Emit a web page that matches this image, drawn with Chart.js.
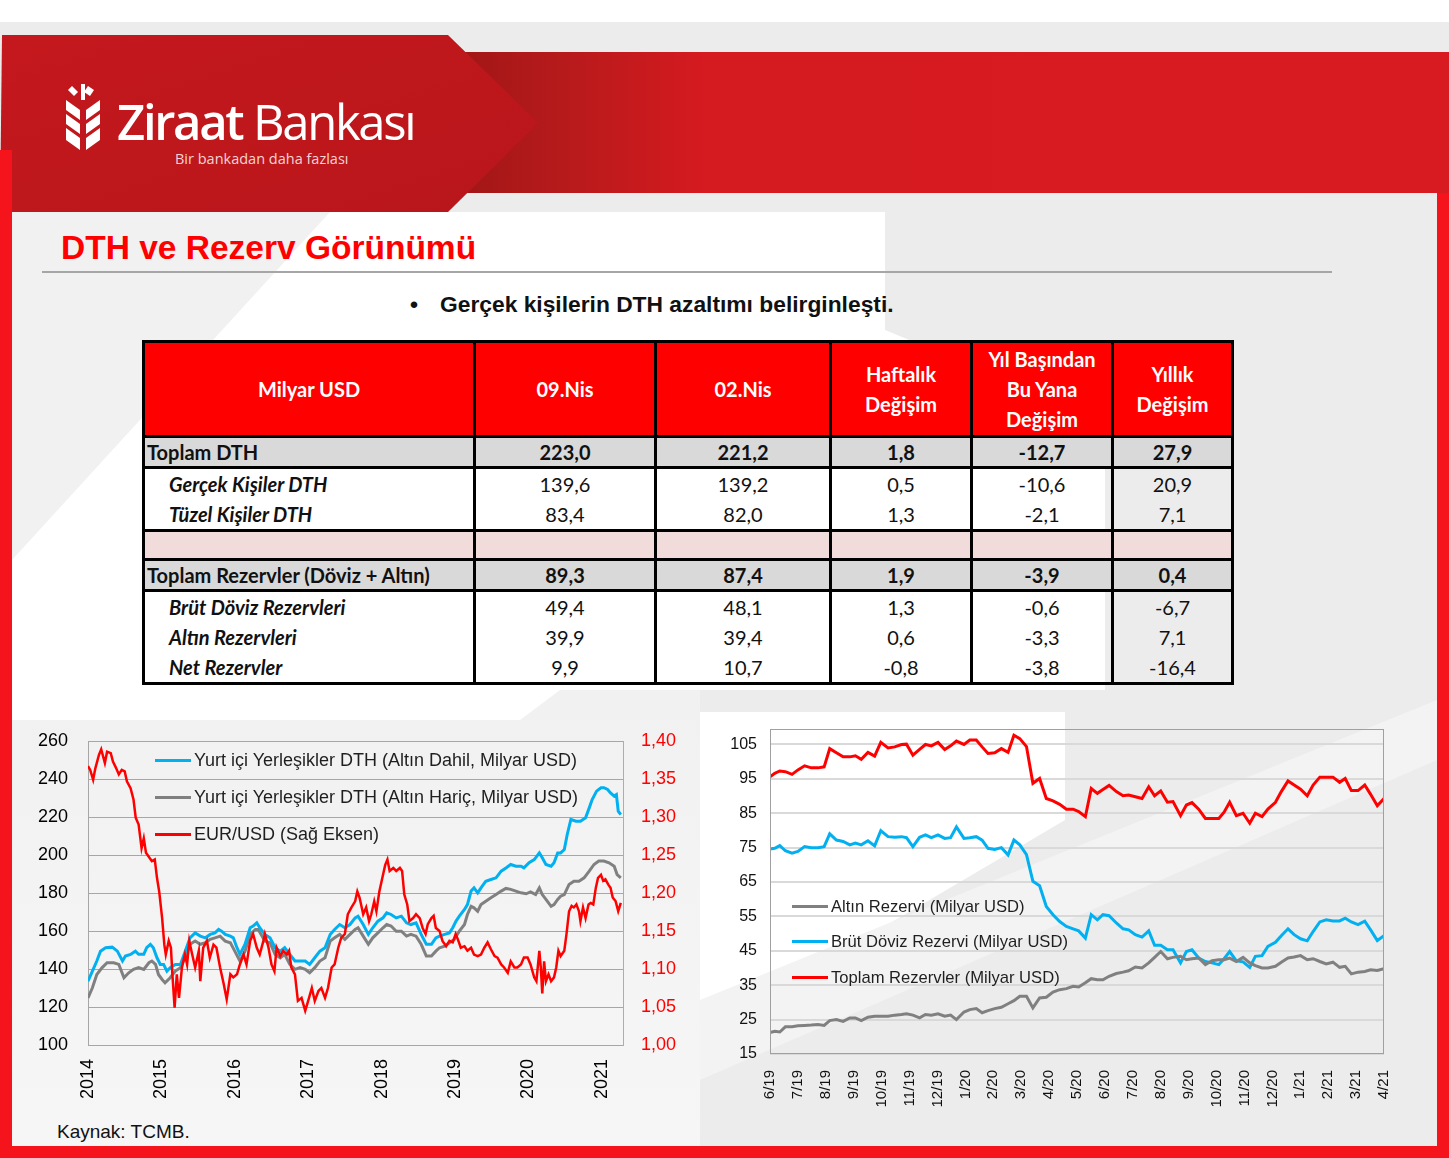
<!DOCTYPE html>
<html lang="tr">
<head>
<meta charset="utf-8">
<title>DTH ve Rezerv Görünümü</title>
<script src="https://cdn.jsdelivr.net/npm/chart.js@4.4.1/dist/chart.umd.min.js"></script>
<style>
  html, body { margin: 0; padding: 0; }
  body { width: 1449px; height: 1158px; position: relative; overflow: hidden; background: #fff;
         font-family: "Liberation Sans", Arial, sans-serif; }
  .abs { position: absolute; }
  #zemin { left: 0; top: 22px; }
  .baslik { left: 61px; top: 229px; font-size: 33.5px; font-weight: bold; color: #ff0000; white-space: nowrap; }
  .cizgi { left: 42px; top: 271px; width: 1290px; height: 2px; background: #a6a6a6; }
  .madde { left: 410px; top: 291px; font-size: 22.8px; font-weight: bold; color: #111; white-space: nowrap; }
  .madde span { display: inline-block; width: 30px; }
  table.tablo { left: 142px; top: 340px; border-collapse: collapse; table-layout: fixed; width: 1089px;
                font-family: Lato, "Open Sans", sans-serif; font-size: 20px; color: #111; }
  .tablo th, .tablo td { border-left: 3px solid #000; border-right: 3px solid #000; padding: 0; text-align: center; }
  .tablo tr.bas th { background: #ff0000; color: #fff; height: 92px; font-weight: bold; line-height: 30px;
                     border-top: 3px solid #000; }
  .tablo tr.ust td { border-top: 3px solid #000; }
  .tablo tr.alt td { border-bottom: 3px solid #000; }
  .tablo tr.toplam td { background: #d9d9d9; font-weight: bold; height: 28px; }
  .tablo tr.toplam td:first-child { text-align: left; padding-left: 2px; }
  .tablo tr.pembe td { background: #f2dcdb; height: 26px; }
  .tablo tr.satir td { height: 30px; }
  .tablo tr.satir2 td { height: 30px; }
  .tablo td.etiket { text-align: left; padding-left: 24px; font-style: italic; font-weight: bold; }
  .lej { font-size: 18px; color: #1f1f1f; white-space: nowrap; }
  .lej i { display: inline-block; width: 36px; height: 3px; vertical-align: middle; margin-right: 3px; position: relative; top: -1px; }
  .lej2 { font-size: 16.6px; color: #1f1f1f; white-space: nowrap; }
  .lej2 i { display: inline-block; width: 36px; height: 3px; vertical-align: middle; margin-right: 3px; position: relative; top: -1px; }
  .kaynak { left: 57px; top: 1121px; font-size: 19px; color: #111; }
</style>
</head>
<body>

<!-- arka plan -->
<svg id="zemin" class="abs" width="1449" height="1136" viewBox="0 22 1449 1136">
  <defs>
    <linearGradient id="logoG" x1="0" y1="0" x2="1" y2="1">
      <stop offset="0" stop-color="#c4181d"/><stop offset="1" stop-color="#b8161b"/>
    </linearGradient>
    <linearGradient id="bantG" x1="0" y1="0" x2="1" y2="0">
      <stop offset="0" stop-color="#a11616"/><stop offset="0.1" stop-color="#b51a1b"/>
      <stop offset="0.25" stop-color="#d51a20"/><stop offset="1" stop-color="#d81b21"/>
    </linearGradient>
    <linearGradient id="solG" x1="0" y1="0" x2="0" y2="1">
      <stop offset="0" stop-color="#f1f1f1"/><stop offset="1" stop-color="#f6f6f6"/>
    </linearGradient>
  </defs>
  <rect x="0" y="22" width="1449" height="1136" fill="#ececec"/>
  <polygon points="12,212 885,212 885,330 1105,420 1105,690 12,690" fill="#ffffff"/>
  <polygon points="12,212 330,212 12,560" fill="#f1f1f1"/>
  <polygon points="12,690 700,690 700,1146 12,1146" fill="url(#solG)"/>
  <polygon points="12,690 560,690 520,720 12,720" fill="#ffffff"/>
  <polygon points="700,712 1065,712 1065,820 760,1000 700,1000" fill="#ffffff"/>
  <polygon points="700,1000 1437,700 1437,760 700,1080" fill="#f3f3f3"/>
  <!-- kırmızı bant -->
  <rect x="455" y="52" width="994" height="141" fill="url(#bantG)"/>
  <polygon points="2,35 448,35 538,123 448,212 0,212" fill="url(#logoG)"/>
  <rect x="0" y="150" width="12" height="1008" fill="#f5141c"/>
  <rect x="1437" y="193" width="12" height="965" fill="#f5141c"/>
  <rect x="0" y="1146" width="1449" height="12" fill="#f5141c"/>
  <!-- başak -->
  <g fill="#ffffff">
    <polygon points="72,86 78,92 74,96 68,90"/>
    <polygon points="88,86 94,90 90,96 84,92"/>
    <polygon points="81,84 85,84 85,100 81,100"/>
    <polygon points="66,100 80,110 80,120 66,110"/>
    <polygon points="100,100 86,110 86,120 100,110"/>
    <polygon points="66,114 80,124 80,134 66,124"/>
    <polygon points="100,114 86,124 86,134 100,124"/>
    <polygon points="66,128 80,138 80,150 66,140"/>
    <polygon points="100,128 86,138 86,150 100,140"/>
  </g>
</svg>

<div class="abs" style="left:117px; top:88px; font-family:'Open Sans',sans-serif; font-size:49px; color:#fff; letter-spacing:-2.3px; white-space:nowrap;"><span style="font-weight:600">Ziraat</span> <span style="font-weight:400">Bankası</span></div>
<div class="abs" style="left:175px; top:149px; font-family:'Open Sans',sans-serif; font-size:14.5px; color:#f4d4d4; white-space:nowrap;">Bir bankadan daha fazlası</div>

<div class="abs baslik">DTH ve Rezerv Görünümü</div>
<div class="abs cizgi"></div>
<div class="abs madde"><span>•</span>Gerçek kişilerin DTH azaltımı belirginleşti.</div>

<table class="abs tablo">
  <colgroup>
    <col style="width:331px"><col style="width:181px"><col style="width:175px">
    <col style="width:141px"><col style="width:141px"><col style="width:120px">
  </colgroup>
  <tr class="bas"><th>Milyar USD</th><th>09.Nis</th><th>02.Nis</th><th>Haftalık<br>Değişim</th><th>Yıl Başından<br>Bu Yana<br>Değişim</th><th>Yıllık<br>Değişim</th></tr>
  <tr class="toplam ust"><td>Toplam DTH</td><td>223,0</td><td>221,2</td><td>1,8</td><td>-12,7</td><td>27,9</td></tr>
  <tr class="satir ust"><td class="etiket">Gerçek Kişiler DTH</td><td>139,6</td><td>139,2</td><td>0,5</td><td>-10,6</td><td>20,9</td></tr>
  <tr class="satir"><td class="etiket">Tüzel Kişiler DTH</td><td>83,4</td><td>82,0</td><td>1,3</td><td>-2,1</td><td>7,1</td></tr>
  <tr class="pembe ust"><td></td><td></td><td></td><td></td><td></td><td></td></tr>
  <tr class="toplam ust"><td>Toplam Rezervler (Döviz + Altın)</td><td>89,3</td><td>87,4</td><td>1,9</td><td>-3,9</td><td>0,4</td></tr>
  <tr class="satir2 ust"><td class="etiket">Brüt Döviz Rezervleri</td><td>49,4</td><td>48,1</td><td>1,3</td><td>-0,6</td><td>-6,7</td></tr>
  <tr class="satir2"><td class="etiket">Altın Rezervleri</td><td>39,9</td><td>39,4</td><td>0,6</td><td>-3,3</td><td>7,1</td></tr>
  <tr class="satir2 alt"><td class="etiket">Net Rezervler</td><td>9,9</td><td>10,7</td><td>-0,8</td><td>-3,8</td><td>-16,4</td></tr>
</table>

<div class="abs" style="left:0; top:720px; width:700px; height:400px;"><canvas id="dthGrafik" width="700" height="400"></canvas></div>
<div class="abs" style="left:700px; top:715px; width:720px; height:400px;"><canvas id="rezervGrafik" width="720" height="400"></canvas></div>

<div class="abs lej" style="left:155px; top:750px;"><i style="background:#00b0f0"></i>Yurt içi Yerleşikler DTH (Altın Dahil, Milyar USD)</div>
<div class="abs lej" style="left:155px; top:787px;"><i style="background:#808080"></i>Yurt içi Yerleşikler DTH (Altın Hariç, Milyar USD)</div>
<div class="abs lej" style="left:155px; top:824px;"><i style="background:#ff0000"></i>EUR/USD (Sağ Eksen)</div>

<div class="abs lej2" style="left:792px; top:897px;"><i style="background:#808080"></i>Altın Rezervi (Milyar USD)</div>
<div class="abs lej2" style="left:792px; top:932px;"><i style="background:#00b0f0"></i>Brüt Döviz Rezervi (Milyar USD)</div>
<div class="abs lej2" style="left:792px; top:968px;"><i style="background:#ff0000"></i>Toplam Rezervler (Milyar USD)</div>

<div class="abs kaynak">Kaynak: TCMB.</div>

<script>
// --- Sol grafik: yurt içi yerleşikler DTH ve EUR/USD (x = yıl) ---
const dthDahilTarih = [2014, 2014.06, 2014.12, 2014.17, 2014.24, 2014.33, 2014.40, 2014.47, 2014.51, 2014.58,
  2014.645, 2014.69, 2014.76, 2014.80, 2014.85, 2014.89, 2014.94, 2014.985, 2015.03, 2015.075,
  2015.12, 2015.19, 2015.26, 2015.325, 2015.39, 2015.46, 2015.53, 2015.60, 2015.665, 2015.73,
  2015.78, 2015.82, 2015.87, 2015.94, 2015.98, 2016.03, 2016.07, 2016.14, 2016.21, 2016.25,
  2016.30, 2016.34, 2016.41, 2016.48, 2016.55, 2016.62, 2016.68, 2016.75, 2016.82, 2016.89,
  2016.96, 2017.02, 2017.09, 2017.16, 2017.23, 2017.30, 2017.36, 2017.43, 2017.50, 2017.57,
  2017.64, 2017.68, 2017.75, 2017.82, 2017.88, 2017.95, 2018.02, 2018.07, 2018.13, 2018.20,
  2018.27, 2018.34, 2018.40, 2018.47, 2018.54, 2018.61, 2018.68, 2018.74, 2018.79, 2018.86,
  2018.925, 2018.97, 2019.015, 2019.06, 2019.13, 2019.17, 2019.22, 2019.26, 2019.31, 2019.355,
  2019.42, 2019.49, 2019.56, 2019.63, 2019.695, 2019.76, 2019.83, 2019.90, 2019.94, 2020.01,
  2020.08, 2020.15, 2020.19, 2020.24, 2020.31, 2020.35, 2020.40, 2020.44, 2020.49, 2020.53,
  2020.58, 2020.65, 2020.71, 2020.78, 2020.83, 2020.87, 2020.93, 2020.99, 2021.03, 2021.08,
  2021.12, 2021.17, 2021.20, 2021.225, 2021.26];
const dthDahil = [133.6, 138.9, 144.2, 149.4, 151.2, 151.5, 149.4, 144.2, 146.8, 147.7,
  149.4, 147.7, 147.7, 151.2, 153.0, 151.2, 145.9, 142.4, 142.4, 138.9,
  140.7, 142.4, 142.4, 149.4, 156.4, 159.0, 157.3, 156.4, 158.2, 159.0,
  160.8, 159.9, 158.2, 157.3, 156.4, 151.2, 147.7, 153.0, 161.7, 162.6,
  164.3, 161.7, 158.2, 156.4, 151.2, 149.4, 151.2, 147.7, 144.2, 144.2,
  144.2, 142.4, 145.9, 149.4, 151.2, 158.2, 160.8, 163.4, 161.7, 163.4,
  166.9, 167.8, 163.4, 158.2, 161.7, 165.2, 166.9, 169.6, 168.7, 166.9,
  167.8, 164.3, 163.4, 164.3, 158.2, 153.0, 153.0, 156.4, 157.3, 158.2,
  159.0, 161.7, 165.2, 167.8, 171.3, 173.9, 181.0, 182.7, 180.1, 182.7,
  186.2, 187.1, 188.0, 191.5, 193.2, 195.0, 194.1, 194.1, 193.2, 195.9,
  197.6, 201.1, 198.5, 195.0, 194.1, 195.9, 201.1, 201.1, 202.9, 210.8,
  218.7, 217.8, 217.8, 219.6, 224.8, 229.2, 233.6, 235.4, 235.4, 234.5,
  232.7, 231.0, 231.8, 223.1, 221.3];

const dthHaricTarih = [2014, 2014.06, 2014.12, 2014.19, 2014.26, 2014.35, 2014.42, 2014.49, 2014.555, 2014.62,
  2014.69, 2014.76, 2014.83, 2014.87, 2014.92, 2014.96, 2015.01, 2015.05, 2015.12, 2015.19,
  2015.26, 2015.325, 2015.39, 2015.46, 2015.53, 2015.60, 2015.665, 2015.73, 2015.80, 2015.87,
  2015.94, 2016.00, 2016.07, 2016.14, 2016.21, 2016.28, 2016.32, 2016.41, 2016.48, 2016.55,
  2016.62, 2016.68, 2016.75, 2016.82, 2016.89, 2016.96, 2017.02, 2017.09, 2017.16, 2017.23,
  2017.30, 2017.36, 2017.43, 2017.50, 2017.57, 2017.64, 2017.68, 2017.75, 2017.82, 2017.88,
  2017.95, 2018.02, 2018.07, 2018.13, 2018.20, 2018.27, 2018.34, 2018.40, 2018.47, 2018.54,
  2018.61, 2018.68, 2018.74, 2018.79, 2018.86, 2018.925, 2018.99, 2019.06, 2019.13, 2019.17,
  2019.22, 2019.26, 2019.31, 2019.355, 2019.42, 2019.49, 2019.56, 2019.63, 2019.695, 2019.76,
  2019.83, 2019.90, 2019.97, 2020.03, 2020.10, 2020.15, 2020.19, 2020.24, 2020.31, 2020.35,
  2020.40, 2020.44, 2020.49, 2020.555, 2020.62, 2020.69, 2020.76, 2020.83, 2020.895, 2020.96,
  2021.03, 2021.10, 2021.17, 2021.21, 2021.26];
const dthHaric = [124.8, 130.1, 137.1, 140.6, 143.3, 143.3, 142.4, 135.4, 138.0, 139.8,
  140.7, 139.8, 143.3, 144.2, 142.4, 137.1, 134.5, 132.7, 135.4, 138.9,
  140.7, 145.9, 153.0, 154.7, 153.0, 153.8, 155.6, 156.4, 157.3, 154.7,
  153.8, 149.4, 144.2, 149.4, 158.2, 160.8, 160.8, 154.7, 153.8, 147.7,
  145.9, 147.7, 142.4, 139.8, 140.7, 139.8, 138.0, 140.7, 144.2, 145.9,
  154.7, 156.4, 158.2, 155.6, 158.2, 160.8, 161.7, 157.3, 153.0, 156.4,
  159.0, 161.7, 163.4, 162.6, 159.9, 159.9, 157.3, 158.2, 157.3, 153.0,
  146.8, 146.8, 149.4, 151.2, 152.0, 153.8, 155.6, 159.9, 163.4, 168.7,
  173.0, 172.2, 170.4, 173.9, 175.7, 177.5, 179.2, 181.0, 182.4, 181.9,
  181.0, 180.1, 179.6, 180.6, 179.2, 182.7, 179.2, 176.6, 173.0, 173.9,
  176.6, 178.3, 179.2, 184.5, 186.2, 186.2, 188.0, 191.5, 195.0, 196.8,
  196.8, 195.9, 194.1, 189.7, 188.0];

const eurTarih = [2014, 2014.03, 2014.07, 2014.10, 2014.15, 2014.18, 2014.23, 2014.26, 2014.31, 2014.34,
  2014.38, 2014.42, 2014.46, 2014.50, 2014.53, 2014.58, 2014.62, 2014.65, 2014.69, 2014.73,
  2014.76, 2014.79, 2014.84, 2014.87, 2014.91, 2014.94, 2014.97, 2015.01, 2015.04, 2015.06,
  2015.10, 2015.13, 2015.15, 2015.18, 2015.21, 2015.24, 2015.28, 2015.32, 2015.35, 2015.38,
  2015.42, 2015.46, 2015.51, 2015.53, 2015.57, 2015.62, 2015.66, 2015.71, 2015.75, 2015.80,
  2015.85, 2015.89, 2015.94, 2015.98, 2016.03, 2016.07, 2016.12, 2016.16, 2016.21, 2016.25,
  2016.30, 2016.34, 2016.39, 2016.41, 2016.46, 2016.50, 2016.54, 2016.57, 2016.62, 2016.66,
  2016.71, 2016.74, 2016.77, 2016.82, 2016.86, 2016.91, 2016.96, 2017.00, 2017.05, 2017.09,
  2017.14, 2017.18, 2017.23, 2017.27, 2017.32, 2017.36, 2017.41, 2017.45, 2017.50, 2017.54,
  2017.59, 2017.64, 2017.67, 2017.70, 2017.75, 2017.79, 2017.83, 2017.86, 2017.90, 2017.93,
  2017.97, 2018.02, 2018.05, 2018.08, 2018.11, 2018.16, 2018.20, 2018.25, 2018.28, 2018.31,
  2018.35, 2018.38, 2018.43, 2018.47, 2018.52, 2018.56, 2018.60, 2018.63, 2018.68, 2018.71,
  2018.74, 2018.79, 2018.83, 2018.88, 2018.925, 2018.97, 2019.01, 2019.04, 2019.08, 2019.13,
  2019.17, 2019.22, 2019.26, 2019.31, 2019.355, 2019.40, 2019.445, 2019.49, 2019.54, 2019.58,
  2019.63, 2019.67, 2019.72, 2019.76, 2019.81, 2019.85, 2019.90, 2019.94, 2019.99, 2020.03,
  2020.08, 2020.11, 2020.15, 2020.17, 2020.19, 2020.215, 2020.24, 2020.275, 2020.31, 2020.35,
  2020.38, 2020.41, 2020.44, 2020.49, 2020.52, 2020.555, 2020.59, 2020.62, 2020.655, 2020.69,
  2020.71, 2020.745, 2020.78, 2020.82, 2020.85, 2020.885, 2020.92, 2020.95, 2020.99, 2021.02,
  2021.05, 2021.09, 2021.12, 2021.15, 2021.19, 2021.225, 2021.26];
const eurUsd = [1.367, 1.362, 1.349, 1.364, 1.382, 1.389, 1.371, 1.386, 1.384, 1.373,
  1.365, 1.356, 1.362, 1.360, 1.347, 1.338, 1.323, 1.299, 1.290, 1.259,
  1.272, 1.253, 1.246, 1.242, 1.244, 1.220, 1.202, 1.167, 1.132, 1.119,
  1.137, 1.128, 1.093, 1.049, 1.093, 1.062, 1.102, 1.119, 1.106, 1.137,
  1.119, 1.102, 1.124, 1.084, 1.128, 1.137, 1.115, 1.132, 1.128, 1.102,
  1.080, 1.060, 1.093, 1.089, 1.093, 1.106, 1.119, 1.106, 1.137, 1.146,
  1.128, 1.119, 1.137, 1.146, 1.128, 1.106, 1.097, 1.128, 1.117, 1.124,
  1.119, 1.124, 1.102, 1.093, 1.058, 1.062, 1.045, 1.058, 1.075, 1.058,
  1.071, 1.075, 1.062, 1.075, 1.102, 1.106, 1.128, 1.141, 1.146, 1.172,
  1.181, 1.189, 1.202, 1.194, 1.172, 1.181, 1.163, 1.172, 1.189, 1.176,
  1.202, 1.224, 1.237, 1.244, 1.229, 1.233, 1.229, 1.233, 1.229, 1.198,
  1.185, 1.163, 1.167, 1.172, 1.167, 1.154, 1.146, 1.159, 1.167, 1.170,
  1.154, 1.150, 1.137, 1.130, 1.137, 1.135, 1.146, 1.139, 1.128, 1.130,
  1.124, 1.128, 1.119, 1.117, 1.119, 1.128, 1.135, 1.126, 1.117, 1.115,
  1.106, 1.102, 1.095, 1.110, 1.102, 1.102, 1.106, 1.115, 1.115, 1.106,
  1.089, 1.084, 1.124, 1.102, 1.068, 1.110, 1.084, 1.093, 1.084, 1.089,
  1.102, 1.124, 1.117, 1.124, 1.146, 1.176, 1.183, 1.181, 1.185, 1.176,
  1.163, 1.181, 1.167, 1.185, 1.187, 1.185, 1.207, 1.220, 1.224, 1.216,
  1.218, 1.211, 1.207, 1.194, 1.189, 1.176, 1.187];

// --- Sağ grafik: rezervler (x = 6/19'dan itibaren ay) ---
const rezervAyEtiket = ['6/19', '7/19', '8/19', '9/19', '10/19', '11/19', '12/19', '1/20', '2/20', '3/20', '4/20', '5/20',
  '6/20', '7/20', '8/20', '9/20', '10/20', '11/20', '12/20', '1/21', '2/21', '3/21', '4/21'];
const rezervEksen = [15, 25, 35, 45, 55, 65, 75, 85, 95, 105];
const rezervTarih = [0, 0.17, 0.35, 0.55, 0.79, 1.00, 1.24, 1.48, 1.72, 1.94,
  2.14, 2.38, 2.62, 2.86, 3.06, 3.27, 3.51, 3.75, 3.97, 4.23,
  4.47, 4.71, 4.89, 5.12, 5.36, 5.57, 5.78, 6.02, 6.26, 6.47,
  6.68, 6.95, 7.16, 7.39, 7.60, 7.81, 8.05, 8.29, 8.53, 8.74,
  8.95, 9.19, 9.42, 9.66, 9.90, 10.14, 10.38, 10.62, 10.86, 11.06,
  11.30, 11.51, 11.73, 11.93, 12.15, 12.41, 12.65, 12.85, 13.09, 13.33,
  13.57, 13.78, 14.00, 14.24, 14.44, 14.71, 14.92, 15.12, 15.36, 15.60,
  15.84, 16.08, 16.27, 16.47, 16.71, 16.95, 17.19, 17.39, 17.63, 17.84,
  18.11, 18.32, 18.56, 18.78, 19.01, 19.25, 19.46, 19.70, 19.93, 20.17,
  20.41, 20.61, 20.83, 21.07, 21.31, 21.52, 21.76, 22.00];
const altinRezervi = [21.2, 21.6, 21.4, 22.9, 22.9, 23.2, 23.3, 23.4, 23.6, 23.3,
  24.7, 25.0, 24.5, 25.5, 25.5, 24.7, 25.7, 26.0, 26.0, 26.0,
  26.3, 26.5, 26.7, 26.3, 25.5, 26.5, 26.3, 26.7, 26.0, 26.3,
  25.0, 27.2, 27.9, 28.2, 27.0, 27.6, 28.2, 28.6, 29.6, 30.5,
  31.8, 31.8, 28.4, 31.3, 31.5, 33.0, 33.7, 34.0, 34.7, 34.5,
  35.7, 36.9, 36.6, 36.6, 37.6, 38.4, 38.8, 39.2, 40.3, 40.0,
  41.5, 43.1, 44.8, 42.7, 43.1, 43.4, 42.4, 42.7, 42.9, 41.0,
  42.1, 42.4, 42.4, 42.9, 41.9, 43.1, 41.5, 40.7, 40.0, 40.0,
  40.5, 41.7, 42.9, 43.2, 43.6, 42.4, 42.7, 41.9, 41.2, 41.7,
  40.2, 40.5, 38.3, 38.8, 39.0, 39.5, 39.3, 39.8];
const brutDoviz = [74.6, 74.8, 75.6, 74.1, 73.4, 73.9, 75.3, 75.0, 75.0, 75.3,
  79.0, 77.2, 76.8, 75.8, 76.3, 75.8, 77.0, 75.5, 79.9, 78.2,
  78.0, 78.2, 77.9, 75.3, 78.0, 78.7, 77.9, 78.7, 77.7, 77.9,
  81.0, 77.7, 77.9, 78.2, 77.2, 74.8, 74.5, 75.0, 72.9, 77.2,
  75.8, 73.0, 65.2, 63.9, 57.9, 55.5, 53.5, 52.1, 51.4, 50.8,
  48.7, 55.5, 54.0, 55.5, 55.2, 53.1, 51.4, 51.1, 49.7, 49.0,
  50.8, 46.6, 46.6, 45.3, 45.3, 41.5, 44.8, 45.3, 42.9, 41.9,
  41.5, 41.0, 42.7, 44.8, 42.1, 41.8, 40.2, 43.4, 43.6, 46.3,
  47.5, 49.4, 51.4, 49.7, 48.5, 47.9, 50.6, 53.4, 54.0, 53.7,
  53.7, 54.5, 53.4, 52.6, 53.6, 51.1, 48.0, 49.4];
const toplamRezerv = [95.6, 96.6, 97.3, 97.1, 96.3, 97.6, 98.8, 98.2, 98.2, 98.5,
  103.8, 102.6, 101.4, 101.4, 101.7, 100.7, 102.7, 101.6, 105.6, 104.0,
  104.3, 105.0, 105.1, 101.9, 103.6, 105.0, 104.6, 105.6, 103.5, 104.6,
  106.0, 105.0, 106.3, 106.3, 104.3, 102.4, 102.6, 103.8, 102.7, 107.7,
  106.7, 104.4, 93.7, 95.1, 89.3, 88.6, 87.6, 86.2, 86.2, 85.5,
  84.0, 92.2, 90.8, 91.9, 93.1, 91.3, 90.1, 90.3, 89.8, 89.3,
  92.7, 90.1, 91.5, 88.2, 88.4, 84.3, 87.4, 88.1, 86.2, 83.5,
  83.5, 83.5, 85.3, 88.2, 84.3, 85.0, 82.1, 85.0, 84.0, 86.2,
  88.2, 91.3, 94.4, 93.2, 92.0, 90.1, 93.2, 95.5, 95.5, 95.5,
  94.0, 95.1, 91.6, 91.6, 93.2, 90.5, 87.2, 89.3];

const noktalar = (tarih, deger) => tarih.map((t, i) => ({ x: t, y: deger[i] }));
const yazi = { family: '"Liberation Sans", Arial, sans-serif' };

// Sol grafik
new Chart(document.getElementById('dthGrafik'), {
  type: 'line',
  data: {
    datasets: [
      { label: 'EUR/USD (Sağ Eksen)', data: noktalar(eurTarih, eurUsd), yAxisID: 'y1',
        borderColor: '#ff0000', borderWidth: 2.5, pointRadius: 0, order: 0 },
      { label: 'Yurt içi Yerleşikler DTH (Altın Dahil, Milyar USD)', data: noktalar(dthDahilTarih, dthDahil), yAxisID: 'y',
        borderColor: '#00b0f0', borderWidth: 3, pointRadius: 0, order: 1 },
      { label: 'Yurt içi Yerleşikler DTH (Altın Hariç, Milyar USD)', data: noktalar(dthHaricTarih, dthHaric), yAxisID: 'y',
        borderColor: '#808080', borderWidth: 3, pointRadius: 0, order: 2 },
    ],
  },
  options: {
    responsive: false,
    animation: false,
    layout: { padding: { top: 21, left: 0, right: 0, bottom: 0 } },
    plugins: { legend: { display: false }, tooltip: { enabled: false } },
    scales: {
      x: {
        type: 'linear', min: 2014, max: 2021.29,
        grid: { display: false }, border: { display: false },
        ticks: { stepSize: 1, includeBounds: false, autoSkip: false, minRotation: 90, maxRotation: 90,
                 padding: 6, color: '#000', font: { ...yazi, size: 18 }, callback: v => String(v) },
        afterFit: s => { s.height = 75; },
      },
      y: {
        position: 'left', min: 100, max: 260,
        grid: { color: '#a6a6a6', lineWidth: 1, drawTicks: true, tickLength: 18, tickColor: 'rgba(0,0,0,0)' },
        border: { display: true, color: '#a6a6a6' },
        ticks: { stepSize: 20, padding: 2, color: '#000', font: { ...yazi, size: 18 } },
        afterFit: s => { s.width = 88; },
      },
      y1: {
        position: 'right', min: 1.0, max: 1.4,
        grid: { display: false, drawTicks: true, tickLength: 16, tickColor: 'rgba(0,0,0,0)' },
        border: { display: true, color: '#ff8a8a' },
        ticks: { stepSize: 0.05, padding: 2, color: '#ff0000', font: { ...yazi, size: 18 },
                 callback: v => v.toFixed(2).replace('.', ',') },
        afterFit: s => { s.width = 77; },
      },
    },
  },
});

// Sağ grafik çerçevesi
const cerceve = {
  id: 'cerceve',
  afterDatasetsDraw(chart) {
    const { ctx, chartArea: a } = chart;
    ctx.save();
    ctx.strokeStyle = '#a0a0a0';
    ctx.lineWidth = 1;
    ctx.strokeRect(a.left + 0.5, a.top + 0.5, a.width - 1, a.height - 1);
    ctx.restore();
  },
};

new Chart(document.getElementById('rezervGrafik'), {
  type: 'line',
  data: {
    datasets: [
      { label: 'Altın Rezervi (Milyar USD)', data: noktalar(rezervTarih, altinRezervi),
        borderColor: '#808080', borderWidth: 3, pointRadius: 0 },
      { label: 'Brüt Döviz Rezervi (Milyar USD)', data: noktalar(rezervTarih, brutDoviz),
        borderColor: '#00b0f0', borderWidth: 3, pointRadius: 0 },
      { label: 'Toplam Rezervler (Milyar USD)', data: noktalar(rezervTarih, toplamRezerv),
        borderColor: '#ff0000', borderWidth: 3, pointRadius: 0 },
    ],
  },
  options: {
    responsive: false,
    animation: false,
    layout: { padding: { top: 14, left: 0, right: 36, bottom: 0 } },
    plugins: { legend: { display: false }, tooltip: { enabled: false } },
    scales: {
      x: {
        type: 'linear', min: 0, max: 22,
        grid: { display: false }, border: { display: false },
        ticks: { stepSize: 1, includeBounds: false, autoSkip: false, minRotation: 90, maxRotation: 90,
                 padding: 8, color: '#111', font: { ...yazi, size: 15 },
                 callback: v => rezervAyEtiket[v] },
        afterFit: s => { s.height = 61; },
      },
      y: {
        min: 15, max: 109.5,
        grid: { color: '#d9d9d9', lineWidth: 2, drawTicks: true, tickLength: 11, tickColor: 'rgba(0,0,0,0)' },
        border: { display: false },
        ticks: { padding: 2, color: '#111', font: { ...yazi, size: 16 } },
        afterBuildTicks: s => { s.ticks = rezervEksen.map(v => ({ value: v })); },
        afterFit: s => { s.width = 70; },
      },
    },
  },
  plugins: [cerceve],
});
</script>
</body>
</html>
